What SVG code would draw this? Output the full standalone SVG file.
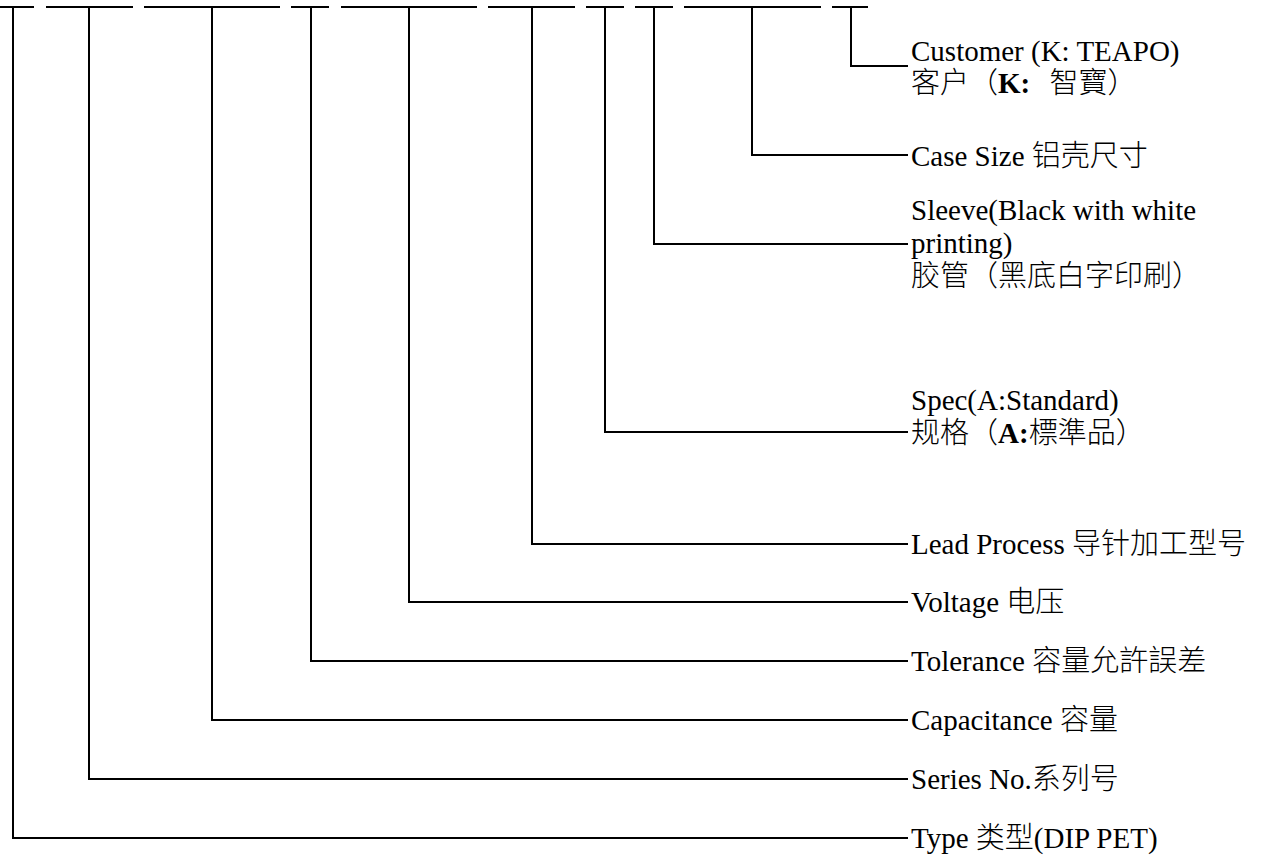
<svg xmlns="http://www.w3.org/2000/svg" width="1266" height="859" viewBox="0 0 1266 859">
<style>
.seg{stroke:#000;stroke-width:2;fill:none}
.conn{stroke:#000;stroke-width:2;fill:none;stroke-linejoin:miter}
.lbl{font-family:"Liberation Serif","Noto Sans CJK SC",serif;font-size:29px;fill:#000;font-weight:300}
.b{font-weight:bold}
</style>
<rect width="1266" height="859" fill="#fff"/>
<g id="node-type">
<line class="seg" x1="0" y1="7" x2="34" y2="7"/>
<text class="lbl" x="911" y="848">Type 类型(DIP PET)</text>
</g>
<g id="node-series">
<line class="seg" x1="46" y1="7" x2="133" y2="7"/>
<text class="lbl" x="911" y="789">Series No.系列号</text>
</g>
<g id="node-capacitance">
<line class="seg" x1="144" y1="7" x2="280" y2="7"/>
<text class="lbl" x="911" y="730">Capacitance 容量</text>
</g>
<g id="node-tolerance">
<line class="seg" x1="291" y1="7" x2="329" y2="7"/>
<text class="lbl" x="911" y="671">Tolerance 容量允許誤差</text>
</g>
<g id="node-voltage">
<line class="seg" x1="341" y1="7" x2="477" y2="7"/>
<text class="lbl" x="911" y="612">Voltage 电压</text>
</g>
<g id="node-lead">
<line class="seg" x1="488" y1="7" x2="575" y2="7"/>
<text class="lbl" x="911" y="554">Lead Process 导针加工型号</text>
</g>
<g id="node-spec">
<line class="seg" x1="586" y1="7" x2="624" y2="7"/>
<text class="lbl" x="911" y="410">Spec(A:Standard)</text>
<text class="lbl" x="911" y="443">规格（<tspan class="b">A:</tspan>標準品）</text>
</g>
<g id="node-sleeve">
<line class="seg" x1="635" y1="7" x2="673" y2="7"/>
<text class="lbl" x="911" y="220">Sleeve(Black with white</text>
<text class="lbl" x="911" y="253">printing)</text>
<text class="lbl" x="911" y="286">胶管（黑底白字印刷）</text>
</g>
<g id="node-case">
<line class="seg" x1="684" y1="7" x2="821" y2="7"/>
<text class="lbl" x="911" y="166">Case Size 铝壳尺寸</text>
</g>
<g id="node-customer">
<line class="seg" x1="832" y1="7" x2="868" y2="7"/>
<text class="lbl" x="911" y="61">Customer (K: TEAPO)</text>
<text class="lbl" x="911" y="93">客户（<tspan class="b">K:</tspan> <tspan dx="12">智寶</tspan>）</text>
</g>
<g id="connectors">
<polyline class="conn" points="13,7 13,838 908,838"/>
<polyline class="conn" points="89,7 89,779 908,779"/>
<polyline class="conn" points="212,7 212,720 908,720"/>
<polyline class="conn" points="311,7 311,661 908,661"/>
<polyline class="conn" points="409,7 409,602 908,602"/>
<polyline class="conn" points="532,7 532,544 908,544"/>
<polyline class="conn" points="605,7 605,432 908,432"/>
<polyline class="conn" points="654,7 654,244 908,244"/>
<polyline class="conn" points="752,7 752,155 908,155"/>
<polyline class="conn" points="851,7 851,66 908,66"/>
</g>
</svg>
